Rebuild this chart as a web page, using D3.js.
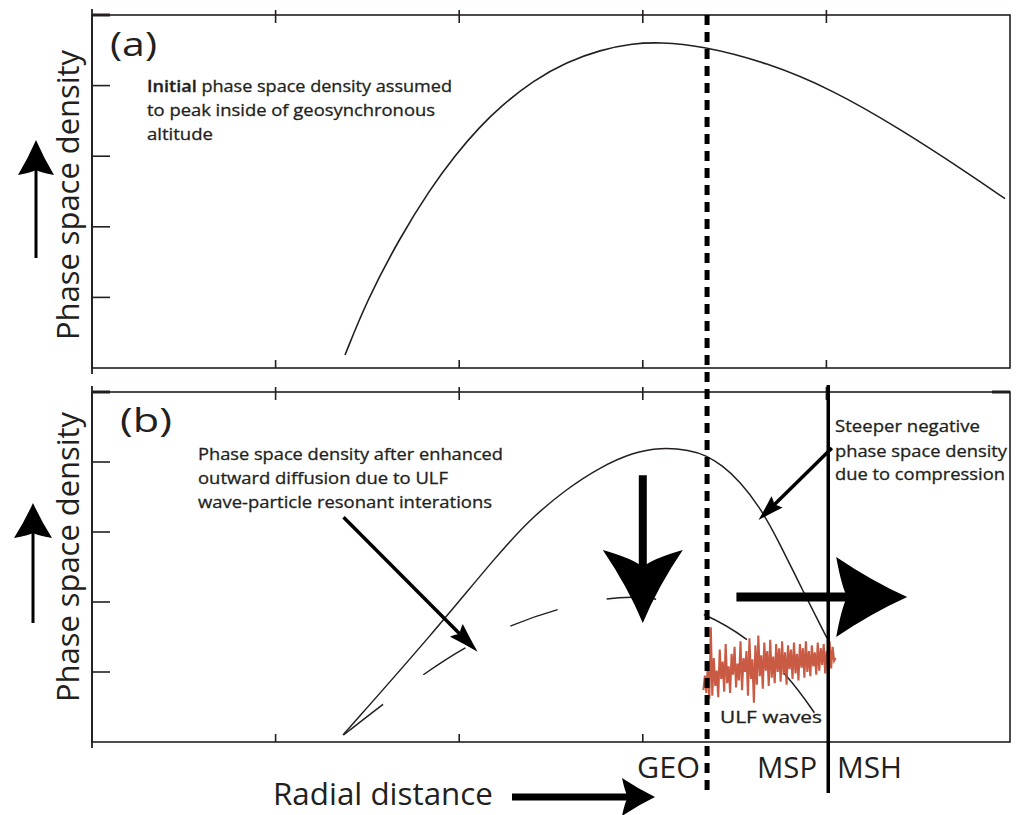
<!DOCTYPE html>
<html>
<head>
<meta charset="utf-8">
<script src="https://cdn.jsdelivr.net/npm/d3@7"></script>
<style>
  html, body { margin: 0; padding: 0; background: #fff; }
  svg { display: block; }
  text { font-family: "Open Sans", "DejaVu Sans", sans-serif; fill: #231f20; }
  text.note { stroke: #231f20; stroke-width: 0.3px; }
</style>
</head>
<body>
<svg id="chart" width="1027" height="815"></svg>
<script>
// Axis grid (arbitrary radial-distance / phase-space-density units)
const xTickValues = [1, 2, 3, 4];
const yTickValues = [1, 2, 3, 4];

// (a) initial phase space density profile
const initialR   = [1.378, 1.498, 1.678, 1.841, 1.977, 2.113, 2.222, 2.402, 2.587, 2.767, 2.947, 3.094, 3.312, 3.676, 4.036, 4.401, 4.766, 4.973];
const initialPSD = [0.184, 0.963, 1.851, 2.531, 3.013, 3.419, 3.697, 4.071, 4.336, 4.504, 4.598, 4.613, 4.568, 4.330, 3.938, 3.387, 2.769, 2.398];

// (b) profile steepened by compression
const compressedR   = [1.367, 1.857, 2.222, 2.402, 2.587, 2.767, 2.947, 3.094, 3.257, 3.344, 3.431, 3.529, 3.638, 3.731, 3.867, 4.003];
const compressedPSD = [0.100, 1.553, 2.720, 3.220, 3.619, 3.926, 4.137, 4.207, 4.173, 4.093, 3.956, 3.724, 3.353, 2.916, 2.183, 1.486];

// (b) profile after enhanced outward diffusion
const diffusedR   = [1.37, 1.58, 1.80, 2.03, 2.28, 2.54, 2.81, 2.94, 3.08, 3.34, 3.57, 3.79, 3.95];
const diffusedPSD = [0.10, 0.53, 0.96, 1.36, 1.67, 1.91, 2.06, 2.07, 2.06, 1.84, 1.49, 0.96, 0.36];

// ULF wave trace between GEO and the magnetopause
const ulfRange = [3.33, 4.05];
const ulfWave = [
  0.74, 0.95, 0.70, 1.10, 0.62, 1.64, 0.66, 1.20, 0.80, 1.02, 0.64, 1.32,
  0.90, 1.15, 0.72, 1.40, 0.84, 1.08, 0.70, 1.26, 0.96, 1.36, 0.78, 1.12,
  0.88, 1.44, 0.74, 1.20, 1.00, 1.30, 0.66, 1.48, 0.90, 1.18, 0.56, 1.38,
  0.82, 1.52, 0.94, 1.24, 0.76, 1.42, 1.02, 1.30, 0.80, 1.46, 0.92, 1.22,
  0.84, 1.40, 1.00, 1.34, 0.86, 1.44, 0.96, 1.28, 0.82, 1.38, 1.04, 1.32,
  0.90, 1.42, 0.98, 1.26, 0.88, 1.40, 1.06, 1.34, 0.92, 1.44, 1.00, 1.30,
  0.94, 1.38, 1.08, 1.28, 0.96, 1.42, 1.02, 1.34, 1.10, 1.40, 0.98, 1.30,
  1.12, 1.44, 1.05, 1.36, 1.16, 1.20
];

// Boundaries
const geoR = 3.35;   // geosynchronous orbit
const mpR  = 4.01;   // magnetopause (MSP | MSH)

const ink = "#231f20";
const svg = d3.select("#chart");

const x  = d3.scaleLinear().domain([0, 5]).range([92, 1010]);
const yA = d3.scaleLinear().domain([0, 5]).range([368, 15]);
const yB = d3.scaleLinear().domain([0, 5]).range([742, 392]);

// Panel frame with inward ticks
function frame(y, opts) {
  const g = svg.append("g");
  const top = y(5), bot = y(0);
  g.append("rect").attr("x", x(0)).attr("y", top)
    .attr("width", x(5) - x(0)).attr("height", bot - top)
    .attr("fill", "none").attr("stroke", ink).attr("stroke-width", 1.6);
  g.append("line").attr("x1", x(0)).attr("x2", x(0))
    .attr("y1", top - 6).attr("y2", bot + 6)
    .attr("stroke", ink).attr("stroke-width", 1.8);
  g.selectAll(".yt").data(yTickValues).join("line")
    .attr("x1", x(0)).attr("x2", x(0) + 18)
    .attr("y1", d => y(d)).attr("y2", d => y(d))
    .attr("stroke", ink).attr("stroke-width", 1.6);
  g.append("line").attr("x1", x(0)).attr("x2", x(0) + 18)
    .attr("y1", top).attr("y2", top)
    .attr("stroke", ink).attr("stroke-width", 3);
  if (opts.rightTopTick) {
    g.append("line").attr("x1", x(5) - 18).attr("x2", x(5))
      .attr("y1", top).attr("y2", top)
      .attr("stroke", ink).attr("stroke-width", 3);
  }
  g.selectAll(".xt").data(xTickValues).join("line")
    .attr("x1", d => x(d)).attr("x2", d => x(d))
    .attr("y1", top - 5).attr("y2", top + 8)
    .attr("stroke", ink).attr("stroke-width", 1.6);
  g.selectAll(".xb").data(opts.bottomTicks).join("line")
    .attr("x1", d => x(d)).attr("x2", d => x(d))
    .attr("y1", bot - 8).attr("y2", bot)
    .attr("stroke", ink).attr("stroke-width", 1.6);
}
frame(yA, { bottomTicks: xTickValues, rightTopTick: false });
frame(yB, { bottomTicks: [1, 2, 3], rightTopTick: true });

const curve = d3.curveBasis;

// (a) initial profile
svg.append("path")
  .datum(d3.zip(initialR, initialPSD))
  .attr("d", d3.line().x(d => x(d[0])).y(d => yA(d[1])).curve(curve))
  .attr("fill", "none").attr("stroke", ink).attr("stroke-width", 1.6);

// (b) compressed profile
svg.append("path")
  .datum(d3.zip(compressedR, compressedPSD))
  .attr("d", d3.line().x(d => x(d[0])).y(d => yB(d[1])).curve(curve))
  .attr("fill", "none").attr("stroke", ink).attr("stroke-width", 1.5);

// (b) diffused profile, long dashes
svg.append("path")
  .datum(d3.zip(diffusedR, diffusedPSD))
  .attr("d", d3.line().x(d => x(d[0])).y(d => yB(d[1])).curve(curve))
  .attr("fill", "none").attr("stroke", ink).attr("stroke-width", 1.5)
  .attr("stroke-dasharray", "50,50");

// ULF wave trace
const ulfX = d3.scaleLinear().domain([0, ulfWave.length - 1]).range(ulfRange);
svg.append("path")
  .datum(ulfWave)
  .attr("d", d3.line().x((d, i) => x(ulfX(i))).y(d => yB(d)))
  .attr("fill", "none").attr("stroke", "#c1442a").attr("stroke-width", 2.1)
  .attr("stroke-linejoin", "miter").attr("opacity", 0.88);

// GEO (dashed) and magnetopause (solid) boundaries
svg.append("line")
  .attr("x1", x(geoR)).attr("x2", x(geoR))
  .attr("y1", yA(5)).attr("y2", 793)
  .attr("stroke", "#000").attr("stroke-width", 5)
  .attr("stroke-dasharray", "10,7");
svg.append("line")
  .attr("x1", x(mpR)).attr("x2", x(mpR))
  .attr("y1", yB(5) - 7).attr("y2", 793)
  .attr("stroke", "#000").attr("stroke-width", 3.5);

// Arrow helper: shaft plus concave head; tail/tip in pixels
function arrow(tail, tip, o) {
  const dx = tip[0] - tail[0], dy = tip[1] - tail[1];
  const ang = Math.atan2(dy, dx) * 180 / Math.PI;
  const len = Math.hypot(dx, dy);
  const g = svg.append("g")
    .attr("transform", `translate(${tip[0]},${tip[1]}) rotate(${ang})`);
  const L = o.L, W = o.W, N = o.N;
  g.append("line").attr("x1", -len).attr("y1", 0).attr("x2", -L + N + 1).attr("y2", 0)
    .attr("stroke", "#000").attr("stroke-width", o.S);
  const c = o.c == null ? 0.12 : o.c;
  const p = d3.path();
  p.moveTo(0, 0);
  p.quadraticCurveTo(-L * 0.5, -W * (0.5 - c), -L, -W);
  p.quadraticCurveTo(-L + N * 0.5, -W * 0.25, -L + N, 0);
  p.quadraticCurveTo(-L + N * 0.5, W * 0.25, -L, W);
  p.quadraticCurveTo(-L * 0.5, W * (0.5 - c), 0, 0);
  p.closePath();
  g.append("path").attr("d", p.toString()).attr("fill", "#000");
}

// Loss (down) and inward compression (right) arrows in panel (b)
arrow([x(3.00), yB(3.81)], [x(3.00), yB(1.70)], { L: 73, W: 40, N: 17, S: 8, c: 0.12 });
arrow([x(3.51), yB(2.07)], [x(4.44), yB(2.07)], { L: 71, W: 40, N: 11, S: 9, c: 0.1 });
// Pointer arrows for the annotations
arrow([x(4.03), yB(4.20)], [x(3.63), yB(3.17)], { L: 26, W: 8, N: 4, S: 3.5, c: 0.05 });
arrow([x(1.37), yB(3.21)], [x(2.10), yB(1.29)], { L: 30, W: 9, N: 5, S: 3.5, c: 0.05 });
// Axis direction arrows
arrow([36, 258], [36, 140], { L: 35, W: 18, N: 5, S: 3, c: 0.08 });
arrow([33, 623], [33, 503], { L: 35, W: 19, N: 5, S: 3, c: 0.08 });
arrow([512, 797], [655, 797], { L: 33, W: 19, N: 6, S: 7, c: 0.08 });

// Text helper
function label(str, px, py, size, width, extra, cls) {
  const t = svg.append("text")
    .attr("x", px).attr("y", py)
    .attr("font-size", size)
    .attr("textLength", width).attr("lengthAdjust", "spacingAndGlyphs");
  if (cls) t.attr("class", cls);
  if (extra) extra(t); else t.text(str);
  return t;
}
const note = (str, px, py, width, extra) => label(str, px, py, 16, width, extra, "note");

// Panel letters
label("(a)", 110, 56, 33, 47);
label("(b)", 120, 432, 33, 52);

// Y-axis titles
svg.append("text")
  .attr("transform", "translate(79,195) rotate(-90)")
  .attr("text-anchor", "middle").attr("font-size", 31)
  .attr("textLength", 290).attr("lengthAdjust", "spacingAndGlyphs")
  .text("Phase space density");
svg.append("text")
  .attr("transform", "translate(79,557) rotate(-90)")
  .attr("text-anchor", "middle").attr("font-size", 31)
  .attr("textLength", 290).attr("lengthAdjust", "spacingAndGlyphs")
  .text("Phase space density");

// Annotations, panel (a)
note(null, 147, 92, 305, t => {
  t.append("tspan").attr("font-weight", 600).text("Initial");
  t.append("tspan").text(" phase space density assumed");
});
note("to peak inside of geosynchronous", 147, 116, 288);
note("altitude", 147, 140, 66);

// Annotations, panel (b)
note("Phase space density after enhanced", 198, 460, 305);
note("outward diffusion due to ULF", 198, 484, 250);
note("wave-particle resonant interations", 198, 508, 294);

note("Steeper negative", 835, 432, 145);
note("phase space density", 835, 457, 172);
note("due to compression", 835, 480, 170);

note("ULF waves", 720, 723, 102);

// Region labels along the radial axis
label("GEO", 637, 778, 30, 63);
label("MSP", 757, 778, 30, 60);
label("MSH", 837, 778, 30, 65);
label("Radial distance", 273, 805, 31, 220);
</script>
</body>
</html>
